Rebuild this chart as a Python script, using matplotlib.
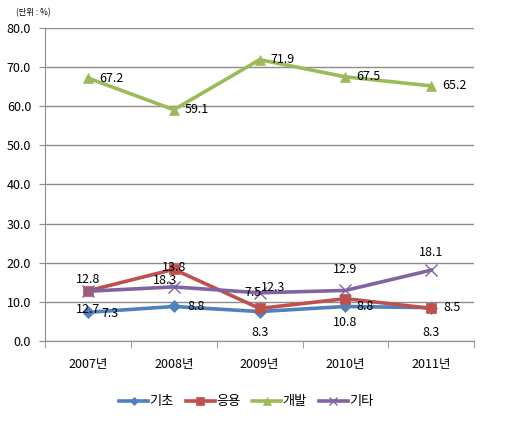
import matplotlib
matplotlib.use("Agg")
import matplotlib.pyplot as plt

plt.rcParams['font.family'] = ['Noto Sans CJK KR', 'DejaVu Sans']

years = ['2007년', '2008년', '2009년', '2010년', '2011년']
basic = [7.3, 8.8, 7.5, 8.8, 8.5]
applied = [12.8, 18.3, 8.3, 10.8, 8.3]
develop = [67.2, 59.1, 71.9, 67.5, 65.2]
other = [12.7, 13.8, 12.3, 12.9, 18.1]
names = ['기초', '응용', '개발', '기타']

# label offsets (points) per series, hand placed like the original
off_basic = [(10, -1, 'left'), (10, 0, 'left'), (-5, 14, 'center'), (8, 0, 'left'), (9, 0, 'left')]
off_applied = [(0, 8, 'center'), (-6, -8, 'center'), (0, -17, 'center'), (0, -17, 'center'), (0, -17, 'center')]
off_develop = [(8, 0, 'left')] * 5
off_other = [(0, -13, 'center'), (0, 14, 'center'), (10, 4, 'center'), (0, 15, 'center'), (0, 13, 'center')]

fig = plt.figure(figsize=(5.24, 4.24), dpi=100)
ax = fig.add_axes([0.086, 0.196, 0.819, 0.738])

x = list(range(len(years)))
series = [
    (basic, '#4F81BD', 'D', 6, off_basic),
    (applied, '#C0504D', 's', 7, off_applied),
    (develop, '#9BBB59', '^', 7.5, off_develop),
    (other, '#8064A2', 'x', 8, off_other),
]
for (vals, col, mk, ms, offs), nm in zip(series, names):
    ax.plot(x, vals, color=col, lw=2.6, marker=mk, markersize=ms,
            markeredgewidth=1.0 if mk == 'x' else 0.5, markeredgecolor=col, label=nm, zorder=3)
    for xi, v, (dx, dy, ha) in zip(x, vals, offs):
        ax.annotate(f'{v:.1f}', (xi, v), xytext=(dx, dy), textcoords='offset points',
                    ha=ha, va='center', fontsize=9, zorder=5)

ax.set_xlim(-0.5, 4.5)
ax.set_ylim(0, 80)
ax.set_yticks(range(0, 81, 10))
ax.set_yticklabels([f'{v:.1f}' for v in range(0, 81, 10)], fontsize=9)
ax.set_xticks(x)
ax.set_xticklabels(years, fontsize=9)
ax.tick_params(axis='x', which='major', length=0, pad=12)
ax.set_xticks([i - 0.5 for i in range(6)], minor=True)
ax.tick_params(axis='x', which='minor', length=5, color='#8c8c8c')
ax.tick_params(axis='y', length=4, color='#8c8c8c', pad=6)
ax.grid(axis='y', color='#8c8c8c', lw=1)
ax.set_axisbelow(True)
for s in ['top', 'right']:
    ax.spines[s].set_visible(False)
for s in ['left', 'bottom']:
    ax.spines[s].set_color('#8c8c8c')

fig.text(0.03, 0.963, '(단위 : %)', fontsize=6)
fig.legend(loc='center', bbox_to_anchor=(0.47, 0.052), ncol=4, frameon=False,
           fontsize=9.5, handlelength=2.2, columnspacing=0.9, handletextpad=0.1,
           markerscale=0.75)

fig.savefig('out.png', dpi=100)
